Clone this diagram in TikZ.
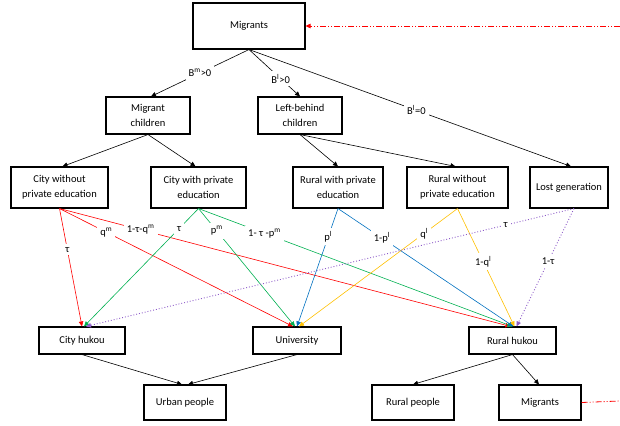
\documentclass[tikz,border=0pt]{standalone}
\usepackage{fontspec}
\setmainfont{Carlito}
\usetikzlibrary{arrows.meta}
\definecolor{cred}{RGB}{255,0,0}
\definecolor{cgreen}{RGB}{0,176,80}
\definecolor{cblue}{RGB}{0,112,192}
\definecolor{cyellow}{RGB}{255,192,0}
\definecolor{cpurple}{RGB}{140,90,200}
\begin{document}
\begin{tikzpicture}[x=1pt,y=-1pt,
  box/.style={draw,line width=1.1pt,inner sep=0pt,align=center,font=\fontsize{10.5}{15}\selectfont},
  arr/.style={-{Triangle[length=5pt,width=4.5pt]},line width=0.6pt},
  lab/.style={fill=white,text=black,inner sep=3pt,font=\fontsize{10.5}{12}\selectfont},
  dd/.style={cred,line width=0.8pt,dash pattern=on 6pt off 2pt on 1pt off 2pt on 1pt off 2pt},
  pdot/.style={cpurple,line width=0.9pt,dotted}
]
\useasboundingbox (0,0) rectangle (620,425);

% boxes
\node[box,minimum width=112pt,minimum height=46pt] (mtop) at (249,26) {Migrants};
\node[box,minimum width=84pt,minimum height=37pt] (mchild) at (148,115.5) {Migrant\\children};
\node[box,minimum width=84pt,minimum height=37pt] (lbchild) at (300,115.5) {Left-behind\\children};
\node[box,minimum width=97pt,minimum height=41pt] (cwo) at (59.5,187.5) {City without\\private education};
\node[box,minimum width=95pt,minimum height=41pt] (cw) at (198.5,187.5) {City with private\\education};
\node[box,minimum width=90pt,minimum height=41pt] (rw) at (338,187.5) {Rural with private\\education};
\node[box,minimum width=101pt,minimum height=41pt] (rwo) at (457.5,187.5) {Rural without\\private education};
\node[box,minimum width=78pt,minimum height=41pt] (lost) at (569,187.5) {Lost generation};
\node[box,minimum width=86pt,minimum height=27pt] (cityh) at (82,340.5) {City hukou};
\node[box,minimum width=88pt,minimum height=27pt] (univ) at (297,340.5) {University};
\node[box,minimum width=87pt,minimum height=27pt] (ruralh) at (512.5,340.5) {Rural hukou};
\node[box,minimum width=82pt,minimum height=35pt] (urban) at (185,402.5) {Urban people};
\node[box,minimum width=82pt,minimum height=35pt] (ruralp) at (413,402.5) {Rural people};
\node[box,minimum width=82pt,minimum height=35pt] (mbot) at (540,402.5) {Migrants};

\coordinate (rin) at (620,26);
\coordinate (rout) at (620,401);

% red dash-dot migration loop
\draw[dd,-{Triangle[length=5pt,width=4.5pt]}] (rin) -- (mtop.east);
\draw[dd] (mbot.east) -- (rout);

% top-level black edges
\draw[arr] (mtop.south) -- node[lab,pos=0.5]{B\textsuperscript{m}>0} ([xshift=3pt]mchild.north);
\draw[arr] (mtop.south) -- node[lab,pos=0.62]{B\textsuperscript{l}>0} (lbchild.north);
\draw[arr] (mtop.south) -- node[lab,pos=0.52]{B\textsuperscript{l}=0} ([xshift=2pt]lost.north);
\draw[arr] (mchild.south) -- ([xshift=3pt]cwo.north);
\draw[arr] (mchild.south) -- ([xshift=-3pt]cw.north);
\draw[arr] (lbchild.south) -- (rw.north);
\draw[arr] (lbchild.south) -- ([xshift=-2pt]rwo.north);

% red edges
\draw[arr,cred] (cwo.south) -- node[lab,pos=0.35]{τ} (cityh.north);
\draw[arr,cred] (cwo.south) -- node[lab,pos=0.2]{q\textsuperscript{m}} ([xshift=-4pt]univ.north);
\draw[arr,cred] (cwo.south) -- node[lab,pos=0.18]{1-τ-q\textsuperscript{m}} ([xshift=-2pt]ruralh.north);

% green edges
\draw[arr,cgreen] (cw.south) -- node[lab,pos=0.17]{τ} ([xshift=2pt]cityh.north);
\draw[arr,cgreen] (cw.south) -- node[lab,pos=0.19]{p\textsuperscript{m}} ([xshift=-2pt]univ.north);
\draw[arr,cgreen] (cw.south) -- node[lab,pos=0.21]{1- τ -p\textsuperscript{m}} (ruralh.north);

% blue edges
\draw[arr,cblue] (rw.south) -- node[lab,pos=0.24]{p\textsuperscript{l}} (univ.north);
\draw[arr,cblue] (rw.south) -- node[lab,pos=0.25]{1-p\textsuperscript{l}} ([xshift=1pt]ruralh.north);

% yellow edges
\draw[arr,cyellow] (rwo.south) -- node[lab,pos=0.21]{q\textsuperscript{l}} ([xshift=2pt]univ.north);
\draw[arr,cyellow] (rwo.south) -- node[lab,pos=0.45]{1-q\textsuperscript{l}} ([xshift=2pt]ruralh.north);

% purple dotted edges
\draw[arr,pdot] ([xshift=5pt]lost.south) -- node[lab,pos=0.14]{τ} ([xshift=4pt]cityh.north);
\draw[arr,pdot] ([xshift=5pt]lost.south) -- node[lab,pos=0.45]{1-τ} ([xshift=4pt]ruralh.north);

% bottom black edges
\draw[arr] (cityh.south) -- ([xshift=-3pt]urban.north);
\draw[arr] (univ.south) -- ([xshift=3pt]urban.north);
\draw[arr] (ruralh.south) -- (ruralp.north);
\draw[arr] (ruralh.south) -- ([xshift=-1pt]mbot.north);
\end{tikzpicture}
\end{document}
